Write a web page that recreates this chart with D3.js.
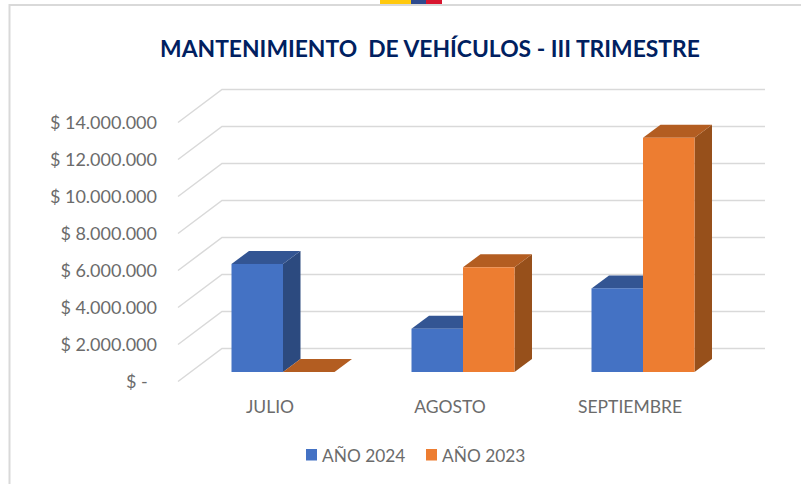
<!DOCTYPE html>
<html><head><meta charset="utf-8">
<script src="https://cdn.jsdelivr.net/npm/d3@7"></script>
<style>html,body{margin:0;padding:0;background:#fff;overflow:hidden}svg{display:block}</style>
</head><body><div id="c"></div>
<script>
const titleText = "MANTENIMIENTO  DE VEHÍCULOS - III TRIMESTRE";
const categories = ["JULIO", "AGOSTO", "SEPTIEMBRE"];
const seriesNames = ["AÑO 2024", "AÑO 2023"];
const valores2024 = [5840000, 2340000, 4520000];
const valores2023 = [0, 5660000, 12660000];
const tickValues = [0, 2000000, 4000000, 6000000, 8000000, 10000000, 12000000, 14000000];
const tickLabels = ["$ -\u00a0\u00a0", "$ 2.000.000", "$ 4.000.000", "$ 6.000.000", "$ 8.000.000", "$ 10.000.000", "$ 12.000.000", "$ 14.000.000"];
const faceColors = ["#4472c4", "#ed7d31"];
const topColors = ["#335593", "#b35d21"];
const sideColors = ["#2c4a7f", "#97501b"];

const W = 801, H = 484;
const svg = d3.select("#c").append("svg").attr("width", W).attr("height", H);
const font = "Lato, 'Open Sans', sans-serif";

// front plane of the bars
const y = d3.scaleLinear().domain([0, 14000000]).range([372, 113]);
const x0 = d3.scaleBand().domain(categories).range([193, 733]);
const x1 = d3.scaleBand().domain(seriesNames).range([38.5, 141.5]);
const barDepth = [17.5, -13];
const wallOffset = [31.5, -23.5];   // bar plane -> back wall
const floorOffset = [-12.5, 9.5];   // bar plane -> front floor edge
const wallRight = 765;
const xPlane = 190.5;

// flag strip and frame
const flag = [["#ffc90e", 380, 31], ["#2f4b8f", 411, 15], ["#d8152f", 426, 16]];
svg.selectAll("rect.flag").data(flag).join("rect").attr("class", "flag")
  .attr("x", d => d[1]).attr("y", 0).attr("width", d => d[2]).attr("height", 4.5).attr("fill", d => d[0]);
svg.append("path").attr("d", `M9.5 ${H}V5H${W}`).attr("fill", "none")
  .attr("stroke", "#d9d9d9").attr("stroke-width", 2);

// title
svg.append("text").attr("x", 430).attr("y", 57).attr("text-anchor", "middle")
  .attr("font-family", font).attr("font-weight", 700).attr("font-size", 22.85)
  .attr("fill", "#002060").attr("xml:space", "preserve").style("white-space", "pre").text(titleText);

// gridlines: floor/side segment + back wall
const grid = svg.append("g").attr("fill", "none").attr("stroke", "#d9d9d9").attr("stroke-width", 1.5);
grid.selectAll("path").data(tickValues).join("path")
  .attr("d", v => d3.line()([
    [xPlane + floorOffset[0], y(v) + floorOffset[1]],
    [xPlane + wallOffset[0], y(v) + wallOffset[1]],
    [wallRight, y(v) + wallOffset[1]]
  ]));

// value axis
const yAxis = d3.axisLeft(y).tickValues(tickValues).tickSize(0).tickPadding(0)
  .tickFormat((d, i) => tickLabels[i]);
const gy = svg.append("g").attr("transform", "translate(157,10)").call(yAxis);
gy.select(".domain").remove();
gy.selectAll("text").attr("font-family", font).attr("font-size", 18).attr("fill", "#6b6b6b");

// bars
const rows = categories.map((c, i) => ({ c, vals: [valores2024[i], valores2023[i]] }));
const groups = svg.selectAll("g.cat").data(rows).join("g").attr("class", "cat")
  .attr("transform", d => `translate(${x0(d.c)},0)`);
const bars = groups.selectAll("g.bar")
  .data(d => d.vals.map((v, s) => ({ v, s, name: seriesNames[s] })))
  .join("g").attr("class", "bar");
const [dx, dy] = barDepth;
bars.append("path").attr("fill", d => sideColors[d.s]).attr("d", d => {
  const r = x1(d.name) + x1.bandwidth(), t = y(d.v), b = y(0);
  return d3.line()([[r, t], [r + dx, t + dy], [r + dx, b + dy], [r, b]]) + "Z";
});
bars.append("path").attr("fill", d => topColors[d.s]).attr("d", d => {
  const l = x1(d.name), r = l + x1.bandwidth(), t = y(d.v);
  return d3.line()([[l, t], [l + dx, t + dy], [r + dx, t + dy], [r, t]]) + "Z";
});
bars.append("rect").attr("fill", d => faceColors[d.s])
  .attr("x", d => x1(d.name)).attr("width", x1.bandwidth())
  .attr("y", d => y(d.v)).attr("height", d => y(0) - y(d.v));

// category axis
const xAxis = d3.axisBottom(x0).tickSize(0).tickPadding(0);
const gx = svg.append("g").attr("transform", "translate(-13,400.5)").call(xAxis);
gx.select(".domain").remove();
gx.selectAll("text").attr("font-family", font).attr("font-size", 17.5).attr("fill", "#6b6b6b");

// legend
const legendX = [306, 426];
const lg = svg.selectAll("g.lg").data(seriesNames).join("g").attr("class", "lg")
  .attr("transform", (d, i) => `translate(${legendX[i]},449)`);
lg.append("rect").attr("width", 11).attr("height", 11.5).attr("fill", (d, i) => faceColors[i]);
lg.append("text").attr("x", 16).attr("y", 12.5).attr("font-family", font).attr("font-size", 17.3)
  .attr("fill", "#6b6b6b").text(d => d);
</script></body></html>
